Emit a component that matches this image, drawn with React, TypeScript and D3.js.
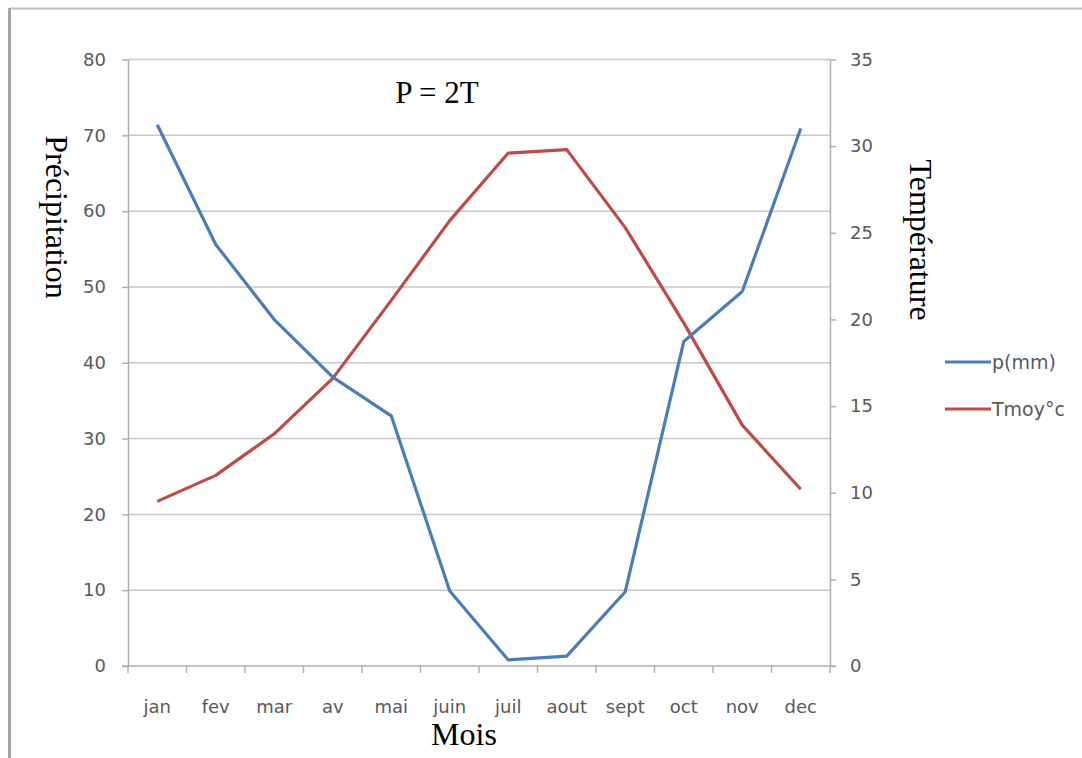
import React, { useEffect, useRef } from "react";
import * as d3 from "d3";

const months = ["jan", "fev", "mar", "av", "mai", "juin", "juil", "aout", "sept", "oct", "nov", "dec"];
const precip = [71.4, 55.6, 45.7, 38.1, 33.0, 9.9, 0.8, 1.3, 9.8, 42.8, 49.4, 70.9];
const temp = [9.5, 11.0, 13.4, 16.6, 21.1, 25.7, 29.6, 29.8, 25.3, 19.8, 13.9, 10.2];
const leftTicks = [0, 10, 20, 30, 40, 50, 60, 70, 80];
const rightTicks = [0, 5, 10, 15, 20, 25, 30, 35];

const W = 1082;
const H = 758;

const App: React.FC = () => {
  const svgRef = useRef<SVGSVGElement>(null);

  useEffect(() => {
    if (!svgRef.current) return;
    const svg = d3.select(svgRef.current);
    svg.selectAll("*").remove();

    const left = 128, right = 830, top = 59.5, bottom = 666;
    const labelFont = "'DejaVu Sans', sans-serif";
    const serif = "'Liberation Serif', 'DejaVu Serif', serif";
    const gray = "#595959";

    // outer frame
    svg.append("rect").attr("width", W).attr("height", H).attr("fill", "#fff");
    svg.append("line").attr("x1", 10).attr("x2", W).attr("y1", 8.5).attr("y2", 8.5)
      .attr("stroke", "#bdbdbd").attr("stroke-width", 2);
    svg.append("line").attr("x1", 9.5).attr("x2", 9.5).attr("y1", 8).attr("y2", H)
      .attr("stroke", "#a6a6a6").attr("stroke-width", 3);

    const x = d3.scaleBand<string>().domain(months).range([left, right]);
    const yL = d3.scaleLinear().domain([0, 80]).range([bottom, top]);
    const yR = d3.scaleLinear().domain([0, 35]).range([bottom, top]);

    // gridlines
    svg.append("g").selectAll("line").data(leftTicks.filter(t => t > 0)).enter().append("line")
      .attr("x1", left).attr("x2", right)
      .attr("y1", d => yL(d)).attr("y2", d => yL(d))
      .attr("stroke", "#c8c8c8").attr("stroke-width", 1.5);

    const axisStyle = (g: d3.Selection<SVGGElement, unknown, null, undefined>) => {
      g.select(".domain").attr("stroke", "#b0b0b0").attr("stroke-width", 1.5);
      g.selectAll(".tick line").attr("stroke", "#b0b0b0").attr("stroke-width", 1.5);
      g.selectAll(".tick text").attr("fill", gray).style("font-family", labelFont).style("font-size", "18px");
    };

    // left axis
    const gL = svg.append("g").attr("transform", `translate(${left},0)`)
      .call(d3.axisLeft(yL).tickValues(leftTicks).tickSize(6).tickSizeOuter(0).tickPadding(16));
    axisStyle(gL);

    // right axis
    const gR = svg.append("g").attr("transform", `translate(${right},0)`)
      .call(d3.axisRight(yR).tickValues(rightTicks).tickSize(6).tickSizeOuter(0).tickPadding(14));
    axisStyle(gR);

    // bottom axis: ticks at category boundaries
    const gB = svg.append("g").attr("transform", `translate(0,${bottom})`);
    gB.append("line").attr("x1", left - 6).attr("x2", right + 6).attr("y1", 0).attr("y2", 0)
      .attr("stroke", "#b0b0b0").attr("stroke-width", 1.5);
    const bounds = months.map(m => x(m) as number).concat([right]);
    gB.selectAll("line.t").data(bounds).enter().append("line").attr("class", "t")
      .attr("x1", d => d).attr("x2", d => d).attr("y1", 0).attr("y2", 7)
      .attr("stroke", "#b0b0b0").attr("stroke-width", 1.5);
    gB.selectAll("text").data(months).enter().append("text")
      .attr("x", d => (x(d) as number) + x.bandwidth() / 2)
      .attr("y", 47).attr("text-anchor", "middle")
      .attr("fill", gray).style("font-family", labelFont).style("font-size", "18px")
      .text(d => d);

    const cx = (i: number) => (x(months[i]) as number) + x.bandwidth() / 2;

    const lineP = d3.line<number>().x((_, i) => cx(i)).y(d => yL(d));
    const lineT = d3.line<number>().x((_, i) => cx(i)).y(d => yR(d));

    svg.append("path").datum(temp).attr("d", lineT).attr("fill", "none")
      .attr("stroke", "#be4b48").attr("stroke-width", 3.2).attr("stroke-linejoin", "round");
    svg.append("path").datum(precip).attr("d", lineP).attr("fill", "none")
      .attr("stroke", "#4a7ebb").attr("stroke-width", 3.2).attr("stroke-linejoin", "round");

    // legend
    const legend = [
      { name: "p(mm)", color: "#4a7ebb", y: 362 },
      { name: "Tmoy°c", color: "#be4b48", y: 409 },
    ];
    const lg = svg.append("g");
    lg.selectAll("line").data(legend).enter().append("line")
      .attr("x1", 945).attr("x2", 991).attr("y1", d => d.y).attr("y2", d => d.y)
      .attr("stroke", d => d.color).attr("stroke-width", 3.2);
    lg.selectAll("text").data(legend).enter().append("text")
      .attr("x", 992).attr("y", d => d.y + 7)
      .attr("fill", gray).style("font-family", labelFont).style("font-size", "19px")
      .text(d => d.name);

    // titles
    svg.append("text").attr("x", 437).attr("y", 103).attr("text-anchor", "middle")
      .style("font-family", serif).style("font-size", "31px").text("P = 2T");
    svg.append("text").attr("x", 464).attr("y", 745).attr("text-anchor", "middle")
      .style("font-family", serif).style("font-size", "32px").text("Mois");
    svg.append("text").attr("transform", "translate(46,217) rotate(90)").attr("text-anchor", "middle")
      .style("font-family", serif).style("font-size", "32px").text("Précipitation");
    svg.append("text").attr("transform", "translate(910,240) rotate(90)").attr("text-anchor", "middle")
      .style("font-family", serif).style("font-size", "32px").text("Température");
  }, []);

  return <svg ref={svgRef} width={W} height={H} style={{ position: "absolute", left: 0, top: 0 }}></svg>;
};

export default App;
